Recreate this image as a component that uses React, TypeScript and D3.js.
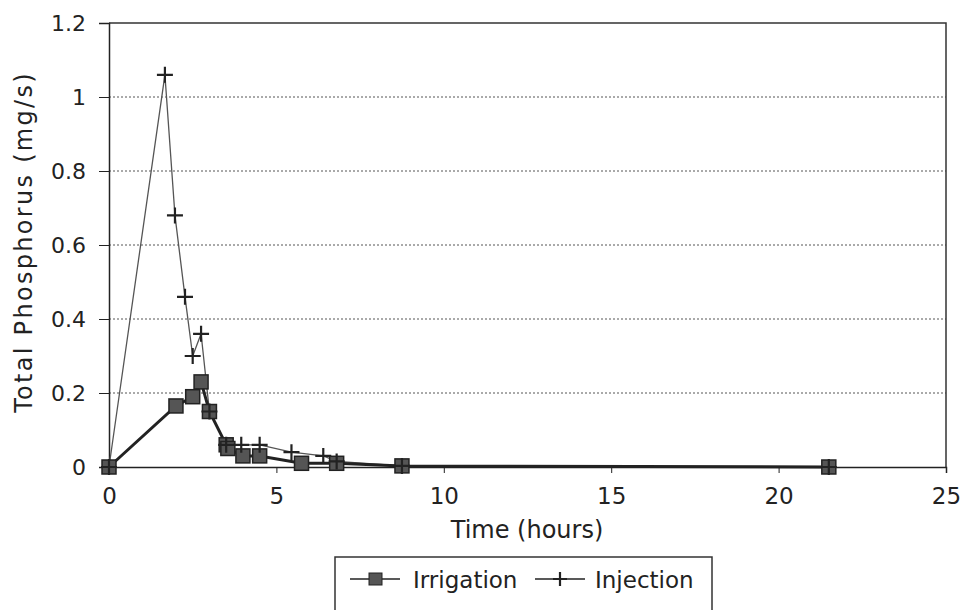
import React, { useEffect, useRef } from 'react';
import * as d3 from 'd3';

// values
const irrigationTime = [0, 2.0, 2.5, 2.75, 3.0, 3.5, 3.55, 4.0, 4.5, 5.75, 6.8, 8.75, 21.5];
const irrigationTP = [0, 0.165, 0.19, 0.23, 0.15, 0.06, 0.05, 0.03, 0.03, 0.01, 0.01, 0.003, 0];

const injectionTime = [0, 1.67, 1.97, 2.27, 2.5, 2.75, 3.0, 3.5, 3.95, 4.5, 5.45, 6.4, 6.8, 8.75, 21.5];
const injectionTP = [0, 1.06, 0.68, 0.46, 0.3, 0.36, 0.15, 0.06, 0.06, 0.06, 0.04, 0.03, 0.015, 0.003, 0];

const xTicks = [0, 5, 10, 15, 20, 25];
const yTicks = [0, 0.2, 0.4, 0.6, 0.8, 1, 1.2];

const FONT = "'DejaVu Sans', sans-serif";

function App() {
  const ref = useRef<SVGSVGElement>(null);

  useEffect(() => {
    const svg = d3.select(ref.current);
    svg.selectAll('*').remove();

    const x = d3.scaleLinear().domain([0, 25]).range([109, 946]);
    const y = d3.scaleLinear().domain([0, 1.2]).range([467, 23]);

    const irrigation = irrigationTime.map((t, i) => [t, irrigationTP[i]] as [number, number]);
    const injection = injectionTime.map((t, i) => [t, injectionTP[i]] as [number, number]);

    // gridlines
    svg.append('g')
      .selectAll('line')
      .data(yTicks.filter(d => d > 0 && d < 1.2))
      .enter()
      .append('line')
      .attr('x1', x(0))
      .attr('x2', x(25))
      .attr('y1', d => y(d))
      .attr('y2', d => y(d))
      .attr('stroke', '#555')
      .attr('stroke-width', 1)
      .attr('stroke-dasharray', '2,2');

    // frame
    svg.append('path')
      .attr('d', `M${x(0)},${y(1.2)}H${x(25)}V${y(0)}`)
      .attr('fill', 'none')
      .attr('stroke', '#333')
      .attr('stroke-width', 1.5);

    const xAxis = svg.append('g')
      .attr('transform', `translate(0,${y(0)})`)
      .call(d3.axisBottom(x).tickValues(xTicks).tickSize(6).tickFormat(d3.format('d')));
    xAxis.select('.domain').attr('stroke', '#222').attr('stroke-width', 1.5);
    xAxis.selectAll('.tick line').attr('stroke', '#222');
    xAxis.selectAll('text')
      .attr('font-family', FONT)
      .attr('font-size', 23)
      .attr('fill', '#222')
      .attr('y', 21);

    const yAxis = svg.append('g')
      .attr('transform', `translate(${x(0)},0)`)
      .call(d3.axisLeft(y).tickValues(yTicks).tickSize(10).tickFormat(d => String(d)));
    yAxis.select('.domain').attr('stroke', '#222').attr('stroke-width', 1.5);
    yAxis.selectAll('.tick line').attr('stroke', '#222');
    yAxis.selectAll('text')
      .attr('font-family', FONT)
      .attr('font-size', 22)
      .attr('fill', '#222')
      .attr('x', -23);

    svg.append('text')
      .attr('x', 527)
      .attr('y', 538)
      .attr('text-anchor', 'middle')
      .attr('font-family', FONT)
      .attr('font-size', 24)
      .attr('fill', '#222')
      .text('Time (hours)');

    svg.append('text')
      .attr('transform', `translate(32,242) rotate(-90)`)
      .attr('text-anchor', 'middle')
      .attr('font-family', FONT)
      .attr('font-size', 24)
      .attr('letter-spacing', 2.3)
      .attr('fill', '#222')
      .text('Total Phosphorus (mg/s)');

    const line = d3.line<[number, number]>().x(d => x(d[0])).y(d => y(d[1]));

    // injection series
    svg.append('path')
      .datum(injection)
      .attr('d', line)
      .attr('fill', 'none')
      .attr('stroke', '#555')
      .attr('stroke-width', 1.3);

    const plus = (g: d3.Selection<SVGGElement, unknown, null, undefined>, px: number, py: number, s: number) => {
      g.append('path')
        .attr('d', `M${px - s},${py}H${px + s}M${px},${py - s}V${py + s}`)
        .attr('stroke', '#222')
        .attr('stroke-width', 2.2)
        .attr('fill', 'none');
    };

    // irrigation series
    svg.append('path')
      .datum(irrigation)
      .attr('d', line)
      .attr('fill', 'none')
      .attr('stroke', '#222')
      .attr('stroke-width', 3);

    svg.append('g')
      .selectAll('rect')
      .data(irrigation)
      .enter()
      .append('rect')
      .attr('x', d => x(d[0]) - 7)
      .attr('y', d => y(d[1]) - 7)
      .attr('width', 14)
      .attr('height', 14)
      .attr('fill', '#555')
      .attr('stroke', '#222')
      .attr('stroke-width', 1.5);

    const plusLayer = svg.append('g');
    injection.forEach(d => plus(plusLayer, x(d[0]), y(d[1]), 8));

    // legend
    const lg = svg.append('g');
    lg.append('rect')
      .attr('x', 335)
      .attr('y', 557)
      .attr('width', 377)
      .attr('height', 70)
      .attr('fill', 'white')
      .attr('stroke', '#333')
      .attr('stroke-width', 1.5);
    lg.append('line')
      .attr('x1', 350).attr('x2', 400).attr('y1', 579).attr('y2', 579)
      .attr('stroke', '#222').attr('stroke-width', 1.5);
    lg.append('rect')
      .attr('x', 369).attr('y', 573).attr('width', 13).attr('height', 12)
      .attr('fill', '#555').attr('stroke', '#222');
    lg.append('text')
      .attr('x', 413).attr('y', 588)
      .attr('font-family', FONT).attr('font-size', 23).attr('fill', '#222')
      .text('Irrigation');
    lg.append('line')
      .attr('x1', 535).attr('x2', 585).attr('y1', 579).attr('y2', 579)
      .attr('stroke', '#222').attr('stroke-width', 1.5);
    plus(lg, 560, 579, 7);
    lg.append('text')
      .attr('x', 595).attr('y', 588)
      .attr('font-family', FONT).attr('font-size', 23).attr('fill', '#222')
      .text('Injection');
  }, []);

  return (
    <svg ref={ref} width={964} height={610} style={{ position: 'absolute', left: 0, top: 0, background: 'white' }} />
  );
}

export default App;
